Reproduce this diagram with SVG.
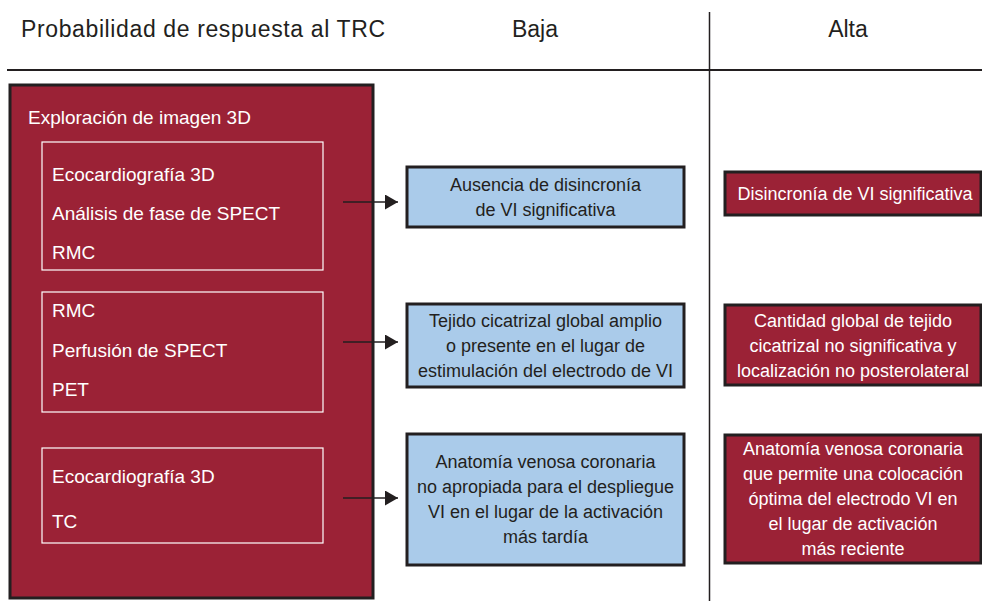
<svg xmlns="http://www.w3.org/2000/svg" width="982" height="601" viewBox="0 0 982 601">
<style>
text{font-family:"Liberation Sans",Arial,sans-serif;}
.hdr{font-size:23px;fill:#231f20;}
.lt{font-size:19px;fill:#ffffff;}
.bt{font-size:18px;fill:#231f20;text-anchor:middle;}
.rt{font-size:18px;fill:#ffffff;text-anchor:middle;}
.red{fill:#9b2236;stroke:#231f20;stroke-width:3;}
.blue{fill:#aacbea;stroke:#231f20;stroke-width:3;}
.inner{fill:none;stroke:#ffffff;stroke-width:1.2;}
.conn{stroke:#231f20;stroke-width:1.5;fill:none;marker-end:url(#ah);}
</style>
<defs>
<marker id="ah" viewBox="0 0 13 15" refX="13" refY="7.5" markerWidth="13" markerHeight="15" markerUnits="userSpaceOnUse" orient="auto">
<path d="M0,0 L13,7.5 L0,15 Z" fill="#231f20"/>
</marker>
</defs>
<rect width="982" height="601" fill="#ffffff"/>
<g id="header">
<text class="hdr" x="21" y="37" textLength="364">Probabilidad de respuesta al TRC</text>
<text class="hdr" x="535" y="37" text-anchor="middle">Baja</text>
<text class="hdr" x="848" y="37" text-anchor="middle">Alta</text>
<line x1="7" y1="70" x2="982" y2="70" stroke="#231f20" stroke-width="2"/>
<line x1="709.5" y1="12" x2="709.5" y2="601" stroke="#231f20" stroke-width="1.5"/>
</g>
<g id="imaging">
<rect class="red" x="10" y="85" width="363" height="513"/>
<text class="lt" x="28" y="124">Exploración de imagen 3D</text>
</g>
<g id="group1">
<rect class="inner" x="42" y="142" width="281" height="128"/>
<text class="lt" x="52" y="181">Ecocardiografía 3D</text>
<text class="lt" x="52" y="220">Análisis de fase de SPECT</text>
<text class="lt" x="52" y="259">RMC</text>
</g>
<g id="group2">
<rect class="inner" x="42" y="292" width="281" height="120"/>
<text class="lt" x="52" y="317">RMC</text>
<text class="lt" x="52" y="357">Perfusión de SPECT</text>
<text class="lt" x="52" y="396">PET</text>
</g>
<g id="group3">
<rect class="inner" x="42" y="448" width="281" height="95"/>
<text class="lt" x="52" y="483">Ecocardiografía 3D</text>
<text class="lt" x="52" y="528">TC</text>
</g>
<g id="connectors">
<line class="conn" x1="343" y1="202" x2="398" y2="202"/>
<line class="conn" x1="343" y1="342" x2="398" y2="342"/>
<line class="conn" x1="343" y1="498" x2="398" y2="498"/>
</g>
<g id="low1">
<rect class="blue" x="407" y="167" width="277" height="60"/>
<text class="bt" x="545.5" y="191">Ausencia de disincronía</text>
<text class="bt" x="545.5" y="216">de VI significativa</text>
</g>
<g id="low2">
<rect class="blue" x="407" y="304" width="277" height="83"/>
<text class="bt" x="545.5" y="327">Tejido cicatrizal global amplio</text>
<text class="bt" x="545.5" y="352">o presente en el lugar de</text>
<text class="bt" x="545.5" y="377">estimulación del electrodo de VI</text>
</g>
<g id="low3">
<rect class="blue" x="407" y="434" width="277" height="131"/>
<text class="bt" x="545.5" y="468">Anatomía venosa coronaria</text>
<text class="bt" x="545.5" y="493">no apropiada para el despliegue</text>
<text class="bt" x="545.5" y="518">VI en el lugar de la activación</text>
<text class="bt" x="545.5" y="543">más tardía</text>
</g>
<g id="high1">
<rect class="red" x="725" y="172" width="256" height="43"/>
<text class="rt" x="855" y="200">Disincronía de VI significativa</text>
</g>
<g id="high2">
<rect class="red" x="725" y="305" width="256" height="80"/>
<text class="rt" x="853" y="327">Cantidad global de tejido</text>
<text class="rt" x="853" y="352">cicatrizal no significativa y</text>
<text class="rt" x="853" y="377">localización no posterolateral</text>
</g>
<g id="high3">
<rect class="red" x="725" y="435" width="256" height="128"/>
<text class="rt" x="853" y="455">Anatomía venosa coronaria</text>
<text class="rt" x="853" y="480">que permite una colocación</text>
<text class="rt" x="853" y="505">óptima del electrodo VI en</text>
<text class="rt" x="853" y="530">el lugar de activación</text>
<text class="rt" x="853" y="555">más reciente</text>
</g>
</svg>
